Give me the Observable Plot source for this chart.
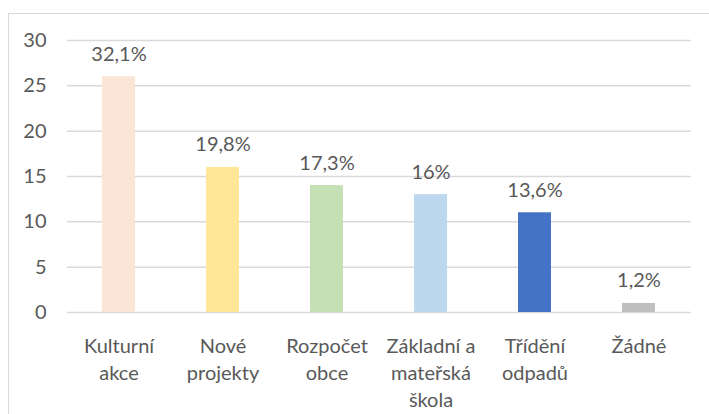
<!DOCTYPE html>
<html>
<head>
<meta charset="utf-8">
<script src="https://cdn.jsdelivr.net/npm/d3@7"></script>
<script src="https://cdn.jsdelivr.net/npm/@observablehq/plot@0.6"></script>
<style>
  html, body { margin: 0; padding: 0; background: #fff; overflow: hidden; }
  #wrap { position: relative; width: 709px; height: 414px; }
  #border { position: absolute; left: 8px; top: 13px; width: 720px; height: 420px;
            border: 1.5px solid #D9D9D9; box-sizing: border-box; pointer-events: none; }
</style>
</head>
<body>
<div id="wrap"><div id="border"></div></div>
<script>
const categories = ["Kulturní\nakce", "Nové\nprojekty", "Rozpočet\nobce", "Základní a\nmateřská\nškola", "Třídění\nodpadů", "Žádné"];
const values = [26, 16, 14, 13, 11, 1];
const labels = ["32,1%", "19,8%", "17,3%", "16%", "13,6%", "1,2%"];
const colors = ["#FBE5D6", "#FFE699", "#C5E0B4", "#BDD7EE", "#4472C4", "#BFBFBF"];
const yTicks = [0, 5, 10, 15, 20, 25, 30];

const data = categories.map((c, i) => ({cat: c, value: values[i], label: labels[i], color: colors[i]}));

const FS = 20;
const chart = Plot.plot({
  width: 709,
  height: 414,
  marginLeft: 67,
  marginRight: 18,
  marginTop: 40,
  marginBottom: 102,
  style: {fontFamily: "Lato, sans-serif", fontSize: FS + "px", color: "#595959", background: "transparent"},
  x: {domain: categories, paddingInner: 0.68, paddingOuter: 0.34, label: null},
  y: {domain: [0, 30], label: null},
  marks: [
    Plot.gridY(yTicks, {stroke: "#D9D9D9", strokeOpacity: 1, strokeWidth: 1.5}),
    Plot.barY(data, {x: "cat", y: "value", fill: "color"}),
    Plot.text(data, {x: "cat", y: "value", text: "label", lineAnchor: "bottom", dy: -16, fill: "#595959", fontSize: FS}),
    Plot.axisY(yTicks, {tickSize: 0, tickPadding: 21, fontSize: FS, fill: "#595959", label: null}),
    Plot.axisX({tickSize: 0, tickPadding: 21, fontSize: FS, fill: "#595959", lineHeight: 1.35, label: null})
  ]
});
chart.style.position = "absolute";
chart.style.left = "0";
chart.style.top = "0";
document.getElementById("wrap").appendChild(chart);
</script>
</body>
</html>
